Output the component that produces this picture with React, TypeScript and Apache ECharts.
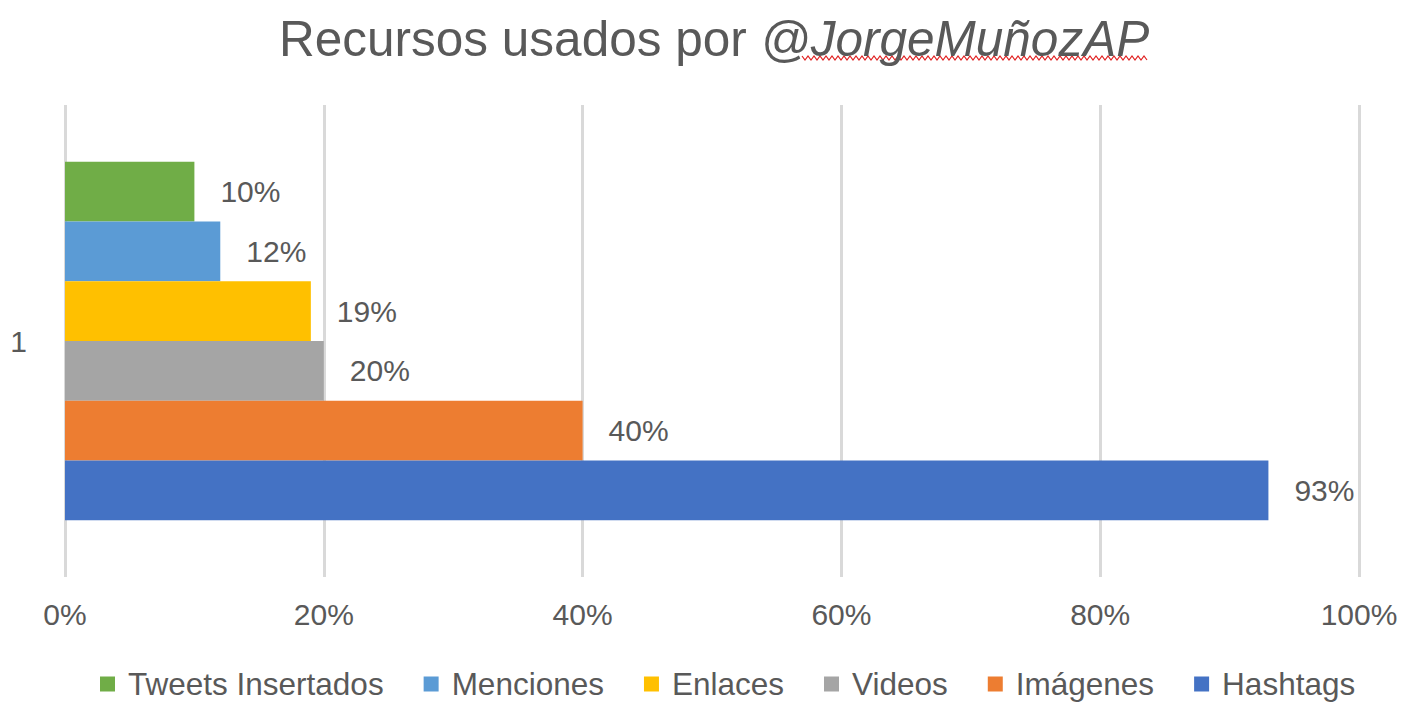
import React, { useEffect, useRef } from "react";
import * as echarts from "echarts";

const categories = ["1"];
const seriesNames = ["Tweets Insertados", "Menciones", "Enlaces", "Videos", "Imágenes", "Hashtags"];
const seriesValues = [0.10, 0.12, 0.19, 0.20, 0.40, 0.93];
const seriesColors = ["#70AD47", "#5B9BD5", "#FFC000", "#A5A5A5", "#ED7D31", "#4472C4"];
const xTicks = [0, 0.2, 0.4, 0.6, 0.8, 1.0];

const FONT = "Liberation Sans";
const TEXT = "#595959";

export default function App() {
  const ref = useRef<HTMLDivElement>(null);
  useEffect(() => {
    document.body.style.margin = "0";
    const chart = echarts.init(ref.current!, null, { renderer: "svg" });
    const wave: number[][] = [];
    for (let x = 802, i = 0; x <= 1148; x += 3, i++) wave.push([x, i % 2 === 0 ? 56 : 60]);
    chart.setOption({
      animation: false,
      textStyle: { fontFamily: FONT },
      title: {
        text: "{a|Recursos usados por }{b|@JorgeMuñozAP}",
        left: 274,
        top: 8,
        textStyle: {
          fontWeight: "normal",
          rich: {
            a: { fontSize: 49.5, color: TEXT, fontFamily: FONT, fontWeight: "normal" },
            b: { fontSize: 49.5, color: TEXT, fontFamily: FONT, fontStyle: "italic", fontWeight: "normal" },
          },
        },
      },
      graphic: [
        { type: "polyline", shape: { points: wave }, style: { stroke: "#E02020", lineWidth: 1.2, fill: null } },
      ],
      legend: {
        data: seriesNames,
        bottom: 0,
        left: 95,
        icon: "rect",
        itemWidth: 15,
        itemHeight: 15,
        itemGap: 40,
        textStyle: { fontSize: 31.5, color: TEXT, fontFamily: FONT, padding: [0, 0, 0, 8] },
      },
      grid: { left: 65, right: 48, top: 105, bottom: 128 },
      xAxis: {
        type: "value",
        min: 0,
        max: 1,
        interval: 0.2,
        axisLine: { show: false },
        axisTick: { show: false },
        splitLine: { lineStyle: { color: "#D9D9D9", width: 3 } },
        axisLabel: {
          fontSize: 30,
          color: TEXT,
          margin: 22,
          formatter: (v: number) => (xTicks.includes(Math.round(v * 10) / 10) ? Math.round(v * 100) + "%" : ""),
        },
      },
      yAxis: {
        type: "category",
        data: categories,
        axisLine: { show: false },
        axisTick: { show: false },
        axisLabel: { fontSize: 30, color: TEXT, margin: 38 },
      },
      series: seriesNames.map((name, i) => ({
        name,
        type: "bar",
        data: [seriesValues[i]],
        barGap: "0%",
        barCategoryGap: "24%",
        itemStyle: { color: seriesColors[i] },
        label: {
          show: true,
          position: "right",
          distance: 26,
          fontSize: 30,
          color: TEXT,
          fontFamily: FONT,
          formatter: (p: any) => Math.round(p.value * 100) + "%",
        },
      })),
    });
    return () => chart.dispose();
  }, []);
  return <div ref={ref} style={{ width: 1407, height: 705 }} />;
}
